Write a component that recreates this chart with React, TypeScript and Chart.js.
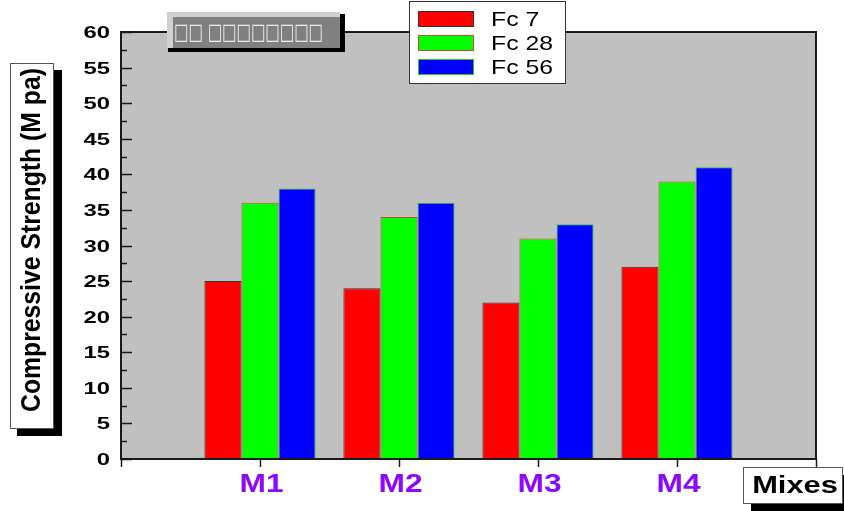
import React, { useEffect, useRef } from "react";
import { Chart, registerables } from "chart.js";

Chart.register(...registerables);

const categories = ["M1", "M2", "M3", "M4"];
const seriesNames = ["Fc 7", "Fc 28", "Fc 56"];
const fc7 = [25, 24, 22, 27];
const fc28 = [36, 34, 31, 39];
const fc56 = [38, 36, 33, 41];
const fillColors = ["#ff0000", "#00ff00", "#0000ff"];
const edgeColors = ["#333333", "#cc4a22", "#22cc22"];
const yMin = 0;
const yMax = 60;
const yStep = 5;
const yTitle = "Compressive Strength (M pa)";
const xTitle = "Mixes";
const boxTitle = "□□ □□□□□□□□";

const FONT = '"Liberation Sans", Arial, sans-serif';

function stretchText(
  ctx: CanvasRenderingContext2D,
  text: string,
  x: number,
  y: number,
  font: string,
  sx: number,
  align: CanvasTextAlign,
  color: string
) {
  ctx.save();
  ctx.font = font;
  ctx.fillStyle = color;
  ctx.textBaseline = "middle";
  ctx.textAlign = align;
  ctx.translate(x, y);
  ctx.scale(sx, 1);
  ctx.fillText(text, 0, 0);
  ctx.restore();
}

const decorPlugin = {
  id: "decor",
  beforeDraw(chart: any) {
    const ctx: CanvasRenderingContext2D = chart.ctx;
    const a = chart.chartArea;
    ctx.save();
    ctx.fillStyle = "#ffffff";
    ctx.fillRect(0, 0, chart.width, chart.height);
    ctx.fillStyle = "#c0c0c0";
    ctx.fillRect(a.left, a.top, a.right - a.left, a.bottom - a.top);
    ctx.restore();
  },
  afterDraw(chart: any) {
    const ctx: CanvasRenderingContext2D = chart.ctx;
    const a = chart.chartArea;
    const xs = chart.scales.x;
    const ys = chart.scales.y;
    ctx.save();
    // frame
    ctx.strokeStyle = "#1a1a1a";
    ctx.lineWidth = 2;
    ctx.strokeRect(a.left, a.top, a.right - a.left, a.bottom - a.top);

    // y ticks
    ctx.lineWidth = 1.5;
    for (let v = yMin; v <= yMax; v += yStep / 2) {
      const py = Math.round(ys.getPixelForValue(v)) + 0.5;
      const major = v % yStep === 0;
      ctx.beginPath();
      ctx.moveTo(a.left, py);
      ctx.lineTo(a.left + (major ? 11 : 6), py);
      ctx.stroke();
      if (major) {
        stretchText(ctx, String(v), 110, py + 1, `bold 17px ${FONT}`, 1.4, "right", "#000000");
      }
    }
    // x ticks
    const labels = chart.data.labels as string[];
    for (let i = 0; i < labels.length; i++) {
      const px = Math.round(xs.getPixelForValue(i)) + 0.5;
      ctx.beginPath();
      ctx.moveTo(px, a.bottom);
      ctx.lineTo(px, a.bottom + 8);
      ctx.stroke();
      if (labels[i]) {
        stretchText(ctx, labels[i], px + 1, 485, `bold 25px ${FONT}`, 1.27, "center", "#8a0aff");
      }
    }

    // y title box
    ctx.fillStyle = "#000000";
    ctx.fillRect(17, 70, 45, 366);
    ctx.fillStyle = "#ffffff";
    ctx.fillRect(10, 63, 44, 366);
    ctx.strokeStyle = "#555555";
    ctx.lineWidth = 1;
    ctx.strokeRect(10.5, 63.5, 43, 365);
    ctx.save();
    ctx.translate(32, 240);
    ctx.rotate(-Math.PI / 2);
    ctx.font = `bold 28px ${FONT}`;
    const tw = ctx.measureText(yTitle).width;
    ctx.scale(344 / tw, 1);
    ctx.fillStyle = "#000000";
    ctx.textAlign = "center";
    ctx.textBaseline = "middle";
    ctx.fillText(yTitle, 0, 0);
    ctx.restore();

    // x title box
    ctx.fillStyle = "#000000";
    ctx.fillRect(751, 475, 93, 36);
    ctx.fillStyle = "#ffffff";
    ctx.fillRect(743, 467, 100, 37);
    ctx.strokeStyle = "#555555";
    ctx.strokeRect(743.5, 467.5, 99, 36);
    stretchText(ctx, xTitle, 795, 487, `bold 23px ${FONT}`, 1.34, "center", "#000000");

    // top title box
    ctx.fillStyle = "#000000";
    ctx.fillRect(168, 14, 177, 38);
    ctx.fillStyle = "#cfcfcf";
    ctx.fillRect(167, 12, 173, 36);
    ctx.fillStyle = "#808080";
    ctx.fillRect(173, 17, 167, 31);
    ctx.save();
    ctx.font = `22px "DejaVu Sans", sans-serif`;
    const bw = ctx.measureText(boxTitle).width;
    ctx.translate(174, 33);
    ctx.scale(149 / bw, 1);
    ctx.fillStyle = "#e8e8e8";
    ctx.textBaseline = "middle";
    ctx.textAlign = "left";
    ctx.fillText(boxTitle, 0, 0);
    ctx.restore();

    // legend
    ctx.fillStyle = "#ffffff";
    ctx.fillRect(409, 1, 157, 83);
    ctx.strokeStyle = "#333333";
    ctx.lineWidth = 1;
    ctx.strokeRect(409.5, 1.5, 156, 82);
    const centers = [19, 43, 67];
    for (let i = 0; i < seriesNames.length; i++) {
      const cy = centers[i];
      ctx.fillStyle = fillColors[i];
      ctx.fillRect(418, cy - 8, 56, 16);
      ctx.strokeStyle = edgeColors[i];
      ctx.lineWidth = 1;
      ctx.strokeRect(418.5, cy - 7.5, 55, 15);
      stretchText(ctx, seriesNames[i], 491, cy + 1, `21px ${FONT}`, 1.18, "left", "#000000");
    }
    ctx.restore();
  },
};

export default function App() {
  const ref = useRef<HTMLCanvasElement | null>(null);
  useEffect(() => {
    if (!ref.current) return;
    const labels = ["", ...categories, ""];
    const series = [fc7, fc28, fc56];
    const chart = new Chart(ref.current, {
      type: "bar",
      data: {
        labels,
        datasets: series.map((s, i) => ({
          label: seriesNames[i],
          data: [null, ...s, null] as any,
          backgroundColor: fillColors[i],
          borderColor: edgeColors[i],
          borderWidth: 1,
          borderSkipped: "bottom" as const,
          categoryPercentage: 0.8,
          barPercentage: 1,
        })),
      },
      options: {
        responsive: false,
        animation: false,
        layout: { padding: { top: 32, right: 28, left: 0, bottom: 0 } },
        plugins: { legend: { display: false }, tooltip: { enabled: false }, title: { display: false } },
        scales: {
          x: {
            type: "category",
            offset: false,
            grid: { display: false },
            border: { display: false },
            ticks: { display: false },
            afterFit: (s: any) => {
              s.height = 52;
            },
          },
          y: {
            min: yMin,
            max: yMax,
            ticks: { display: false, stepSize: yStep },
            grid: { display: false },
            border: { display: false },
            afterFit: (s: any) => {
              s.width = 121;
            },
          },
        },
      },
      plugins: [decorPlugin],
    });
    return () => chart.destroy();
  }, []);
  return (
    <div style={{ position: "absolute", left: 0, top: 0, width: 844, height: 511 }}>
      <canvas ref={ref} width={844} height={511} />
    </div>
  );
}
